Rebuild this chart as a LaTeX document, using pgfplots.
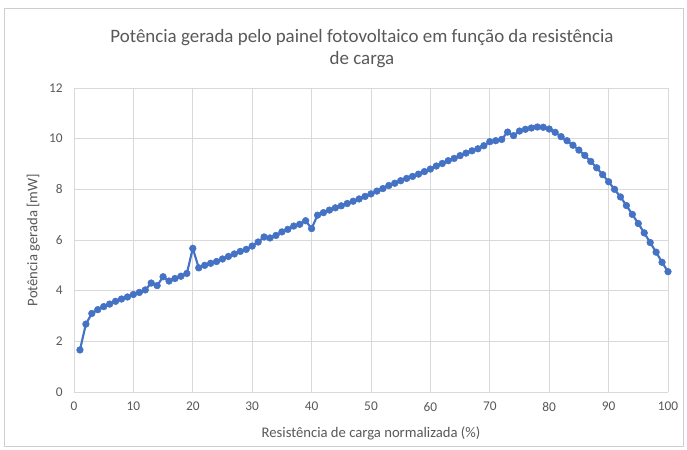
\documentclass[border=0pt]{standalone}
\usepackage{pgfplots}
\pgfplotsset{compat=1.18}
\usepackage{fontspec}
\setmainfont{Carlito}
\definecolor{serie}{HTML}{4472C4}
\definecolor{grade}{HTML}{D9D9D9}
\definecolor{texto}{HTML}{595959}
\begin{document}
\begin{tikzpicture}[x=0.75pt,y=0.75pt]
\path[fill=white] (0,0) rectangle (687,450);
\draw[grade!80!black!60,line width=0.6pt] (4,4) rectangle (683,442);
\node[text=texto,font=\fontsize{14.2}{17}\selectfont,align=center] at (362,401.5) {Potência gerada pelo painel fotovoltaico em função da resistência\\de carga};
\begin{axis}[
  at={(74pt*0.75,58pt*0.75)}, anchor=south west,
  scale only axis, width=445.5pt, height=228pt,
  xmin=0, xmax=100, ymin=0, ymax=12,
  xtick={0,10,...,100}, ytick={0,2,...,12},
  grid=major, major grid style={grade, line width=0.6pt},
  axis line style={draw=none},
  major tick length=0pt,
  tick label style={text=texto,font=\fontsize{10}{12}\selectfont},
  xticklabel style={yshift=-4pt},
  yticklabel style={xshift=-5pt},
  /pgf/number format/assume math mode=true,
  xlabel={Resistência de carga normalizada (\%)},
  ylabel={Potência gerada [mW]},
  label style={text=texto,font=\fontsize{11}{13}\selectfont},
  xlabel style={yshift=-5pt},
  ylabel style={yshift=0pt},
  clip=false,
]
\addplot[color=serie, line width=1.6pt, mark=*, mark size=2.5pt, mark options={fill=serie, draw=serie, line width=0.4pt}] coordinates {
(1,1.66)(2,2.68)(3,3.1)(4,3.25)(5,3.37)(6,3.47)(7,3.58)(8,3.67)(9,3.75)(10,3.85)
(11,3.93)(12,4.03)(13,4.3)(14,4.2)(15,4.55)(16,4.38)(17,4.48)(18,4.57)(19,4.68)(20,5.67)
(21,4.9)(22,5.0)(23,5.08)(24,5.15)(25,5.25)(26,5.35)(27,5.45)(28,5.55)(29,5.63)(30,5.76)
(31,5.92)(32,6.12)(33,6.08)(34,6.18)(35,6.32)(36,6.42)(37,6.55)(38,6.62)(39,6.76)(40,6.45)
(41,6.98)(42,7.08)(43,7.18)(44,7.27)(45,7.35)(46,7.44)(47,7.53)(48,7.62)(49,7.72)(50,7.82)
(51,7.93)(52,8.03)(53,8.15)(54,8.24)(55,8.34)(56,8.43)(57,8.51)(58,8.6)(59,8.7)(60,8.8)
(61,8.92)(62,9.02)(63,9.13)(64,9.22)(65,9.33)(66,9.43)(67,9.52)(68,9.6)(69,9.72)(70,9.88)
(71,9.92)(72,9.97)(73,10.26)(74,10.12)(75,10.3)(76,10.37)(77,10.42)(78,10.46)(79,10.45)(80,10.38)
(81,10.25)(82,10.08)(83,9.92)(84,9.74)(85,9.55)(86,9.34)(87,9.1)(88,8.85)(89,8.58)(90,8.3)
(91,8.0)(92,7.7)(93,7.36)(94,7.01)(95,6.65)(96,6.28)(97,5.9)(98,5.52)(99,5.12)(100,4.75)
};
\end{axis}
\end{tikzpicture}
\end{document}
